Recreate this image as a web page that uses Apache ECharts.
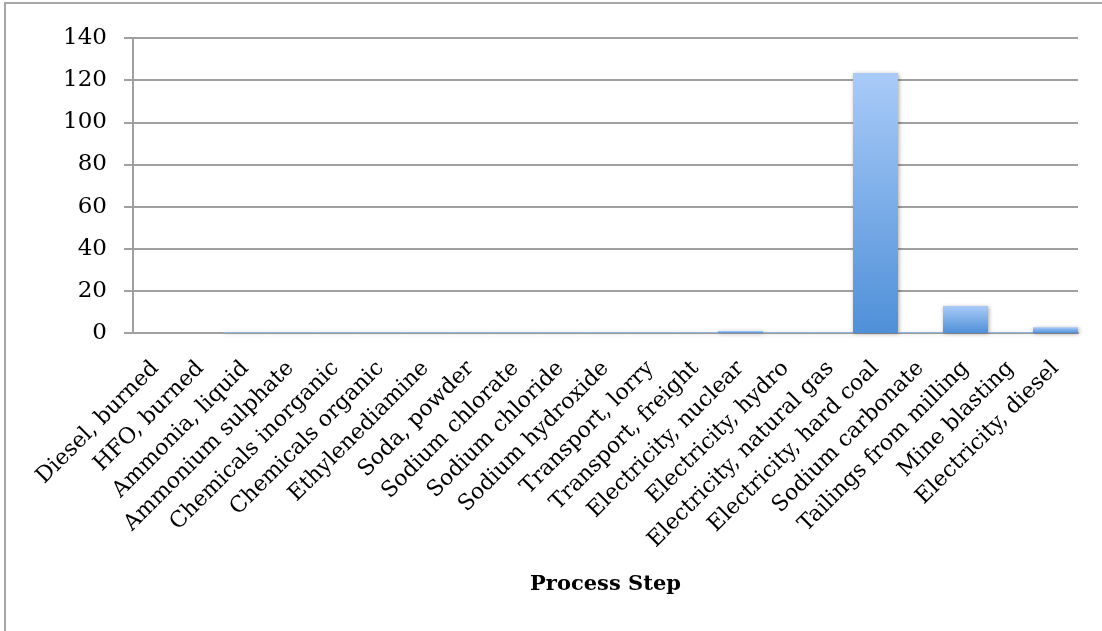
<!DOCTYPE html>
<html>
<head>
<meta charset="utf-8">
<script src="https://cdn.jsdelivr.net/npm/echarts@6/dist/echarts.min.js"></script>
<style>
html,body{margin:0;padding:0;background:#fff;}
#chart{width:1102px;height:631px;}
</style>
</head>
<body>
<div id="chart"></div>
<script>
const categories = ["Diesel, burned","HFO, burned","Ammonia, liquid","Ammonium sulphate","Chemicals inorganic","Chemicals organic","Ethylenediamine","Soda, powder","Sodium chlorate","Sodium chloride","Sodium hydroxide","Transport, lorry","Transport, freight","Electricity, nuclear","Electricity, hydro","Electricity, natural gas","Electricity, hard coal","Sodium carbonate","Tailings from milling","Mine blasting","Electricity, diesel"];
const values = [0,0,0.3,0.3,0.3,0.3,0.3,0.3,0.3,0.3,0.3,0.3,0.3,0.9,0.3,0.3,123.4,0.3,12.8,0.3,2.7];
const yTicks = [0,20,40,60,80,100,120,140];
const xTitle = 'Process Step';
</script>
<script>
const chart = echarts.init(document.getElementById('chart'));
const serif = '"DejaVu Serif", serif';
const barColor = new echarts.graphic.LinearGradient(0,0,0,1,[
  {offset:0,color:'#a9cbf8'},{offset:1,color:'#4f90d8'}]);
chart.setOption({
  animation:false,
  graphic:[{type:'rect',shape:{x:5,y:3,width:1120,height:660},style:{fill:'none',stroke:'#a6a6a6',lineWidth:2},silent:true}],
  grid:{left:133,right:24,top:38,bottom:298},
  xAxis:{
    type:'category', data:categories,
    axisLine:{show:true,onZero:false,lineStyle:{color:'#a0a0a0',width:2}},
    axisTick:{show:false},
    axisLabel:{rotate:45,interval:0,margin:32,fontFamily:serif,fontSize:22,color:'#000'},
    name:xTitle, nameLocation:'middle', nameGap:241,
    nameTextStyle:{fontFamily:serif,fontSize:21,fontWeight:'bold',color:'#000'}
  },
  yAxis:{
    type:'value', min:0, max:140, interval:20,
    axisLine:{show:true,lineStyle:{color:'#a0a0a0',width:2}},
    axisTick:{show:true,length:9,lineStyle:{color:'#a0a0a0',width:2}},
    splitLine:{lineStyle:{color:'#a0a0a0',width:2}},
    axisLabel:{margin:26,fontFamily:serif,fontSize:23,color:'#000',
      formatter:v=>yTicks.includes(v)?String(v):''}
  },
  series:[{
    type:'bar', data:values,
    barCategoryGap:'0%',
    itemStyle:{color:barColor,shadowColor:'rgba(0,0,0,0.35)',shadowBlur:4,shadowOffsetX:1,shadowOffsetY:1}
  }]
});
</script>
</body>
</html>
